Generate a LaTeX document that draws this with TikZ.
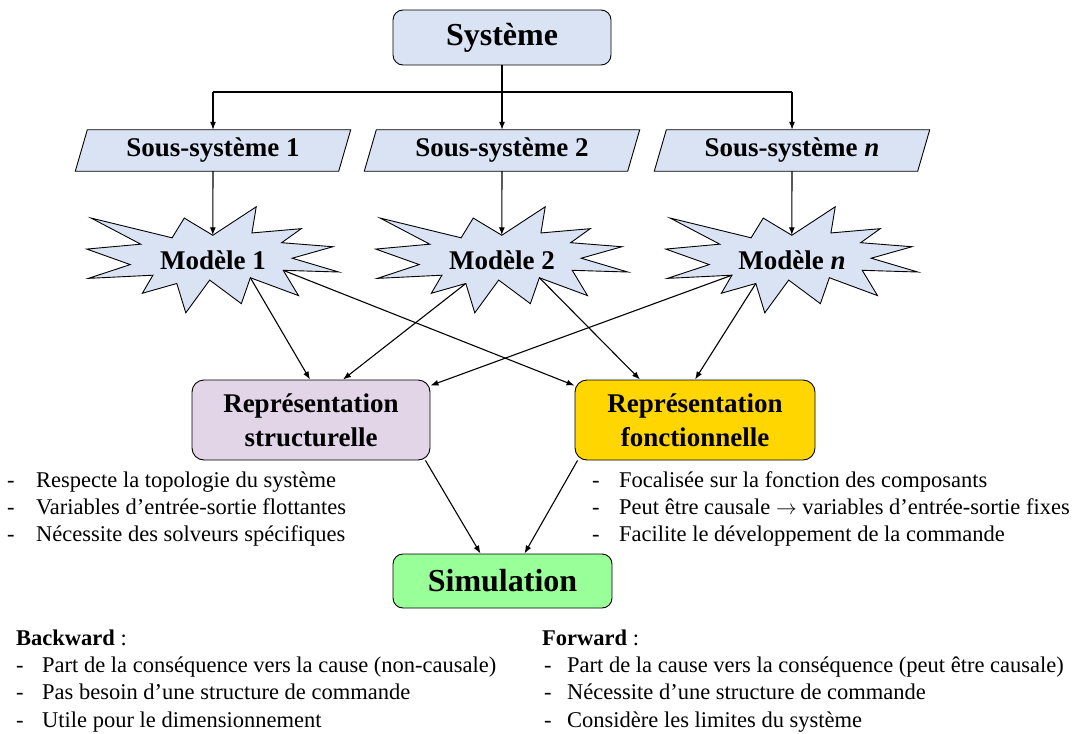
\documentclass[tikz,border=0pt]{standalone}
\usepackage{fontspec}
\setmainfont{Liberation Serif}
\usetikzlibrary{arrows.meta,calc,backgrounds}
\definecolor{sysblue}{RGB}{218,227,243}
\definecolor{lav}{RGB}{225,213,231}
\definecolor{gold}{RGB}{255,214,0}
\definecolor{simgreen}{RGB}{153,255,153}
\newcommand\mydash[1]{\makebox[#1][l]{-}}
\newcommand\paraframe[1]{%
  \draw[fill=sysblue, line width=0.9pt] ($(#1.south west)+(-6,0)$) -- ($(#1.south east)+(-6,0)$)
    -- ($(#1.north east)+(6,0)$) -- ($(#1.north west)+(6,0)$) -- cycle;}
\newcommand\sealframe[1]{%
  \begin{scope}[shift={(#1.north west)}, x=1.16667pt, y=-0.490741pt]
    \draw[fill=sysblue, line width=0.9pt] (108,58) -- (145.22,0) -- (141.55,53.25) -- (183.80,44.57)
      -- (167.02,73.15) -- (210.97,81.37) -- (176.07,104.75) -- (216,132.90) -- (168.37,129.42)
      -- (181.45,180.95) -- (140.20,144.57) -- (132.47,197.37) -- (105.32,149.35) -- (84.85,216)
      -- (77.15,156.27) -- (47.62,176.17) -- (56.67,139.37) -- (1.35,145.87) -- (37.22,117.75)
      -- (0,86.15) -- (46.27,76.17) -- (3.70,22.95) -- (73.12,63.20) -- (83.52,22.95) -- cycle;
    \coordinate (#1-top) at (108,58);
    \coordinate (#1-a) at (140.20,144.57);
    \coordinate (#1-b) at (168.37,129.42);
    \coordinate (#1-c) at (77.15,156.27);
    \coordinate (#1-d) at (56.67,139.37);
  \end{scope}}
\begin{document}
\begin{tikzpicture}[x=1pt, y=-1pt,
  conn/.style={-{Latex[length=8pt,width=6pt]}, line width=1.1pt},
  plain/.style={line width=1.1pt},
  bigtxt/.style={font=\fontsize{32}{38}\selectfont\bfseries},
  midtxt/.style={font=\fontsize{27}{34}\selectfont\bfseries},
  box/.style={draw, line width=0.9pt, rounded corners=10pt, align=center, inner sep=0pt},
  ssnode/.style={midtxt, inner sep=0pt, minimum width=263pt, minimum height=41pt},
  sealnode/.style={midtxt, inner sep=0pt, minimum width=252pt, minimum height=106pt},
  listtxt/.style={font=\fontsize{22.5}{27}\selectfont, inner sep=0pt, anchor=base west}]
\useasboundingbox (0,0) rectangle (1086,733);

% nodes
\node[box, bigtxt, fill=sysblue, minimum width=218pt, minimum height=55pt] (sys) at (502,37.5) {Système};
\node[ssnode] (ss1) at (213,150.5) {Sous-système 1};
\node[ssnode] (ss2) at (502,150.5) {Sous-système 2};
\node[ssnode] (ssn) at (792,150.5) {Sous-système \textit{n}};
\node[sealnode] (m1) at (213,260) {Modèle 1};
\node[sealnode] (m2) at (502,260) {Modèle 2};
\node[sealnode] (mn) at (792,260) {Modèle \textit{n}};
\node[box, midtxt, fill=lav, rounded corners=12pt, minimum width=238pt, minimum height=80pt] (rs) at (311,420) {Représentation\\structurelle};
\node[box, midtxt, fill=gold, rounded corners=12pt, minimum width=240pt, minimum height=80pt] (rf) at (695,420) {Représentation\\fonctionnelle};
\node[box, bigtxt, fill=simgreen, minimum width=219pt, minimum height=54pt] (sim) at (502.5,581) {Simulation};

\begin{pgfonlayer}{background}
  \paraframe{ss1}
  \paraframe{ss2}
  \paraframe{ssn}
  \sealframe{m1}
  \sealframe{m2}
  \sealframe{mn}
\end{pgfonlayer}

% connectors
\coordinate (jn) at (502,92);
\draw[conn] (sys.south) -- (ss2.north);
\draw[plain] (ss1.north |- jn) -- (ssn.north |- jn);
\draw[conn] (ss1.north |- jn) -- (ss1.north);
\draw[conn] (ssn.north |- jn) -- (ssn.north);
\draw[conn] (ss1.south) -- (m1-top);
\draw[conn] (ss2.south) -- (m2-top);
\draw[conn] (ssn.south) -- (mn-top);

\draw[conn] (m1-a) -- ([xshift=-1pt]rs.north);
\draw[conn] (m2-c) -- ([xshift=32pt]rs.north);
\draw[conn] (mn-d) -- ([yshift=-6pt]rs.north east);
\draw[conn] (m1-b) -- ([yshift=-6pt]rf.north west);
\draw[conn] (m2-a) -- ([xshift=-55pt]rf.north);
\draw[conn] (mn-c) -- (rf.north);
\draw[conn] ([xshift=-5pt]rs.south east) -- ([xshift=-22pt]sim.north);
\draw[conn] ([xshift=3pt]rf.south west) -- ([xshift=22pt]sim.north);

% lists
\node[listtxt] (l1) at (7,487) {\mydash{29pt}Respecte la topologie du système};
\node[listtxt] (l2) at (7,514) {\mydash{29pt}Variables d’entrée-sortie flottantes};
\node[listtxt] (l3) at (7,541) {\mydash{29pt}Nécessite des solveurs spécifiques};

\node[listtxt] (r1) at (592,487) {\mydash{27pt}Focalisée sur la fonction des composants};
\node[listtxt] (r2) at (592,514) {\mydash{27pt}Peut être causale $\rightarrow$ variables d’entrée-sortie fixes};
\node[listtxt] (r3) at (592,541) {\mydash{27pt}Facilite le développement de la commande};

\node[listtxt] (b0) at (16,645) {\textbf{Backward} :};
\node[listtxt] (b1) at (16,672) {\mydash{26pt}Part de la conséquence vers la cause (non-causale)};
\node[listtxt] (b2) at (16,699.5) {\mydash{26pt}Pas besoin d’une structure de commande};
\node[listtxt] (b3) at (16,727) {\mydash{26pt}Utile pour le dimensionnement};

\node[listtxt] (f0) at (542,645) {\textbf{Forward} :};
\node[listtxt] (f1) at (544,672) {\mydash{23pt}Part de la cause vers la conséquence (peut être causale)};
\node[listtxt] (f2) at (544,699.5) {\mydash{23pt}Nécessite d’une structure de commande};
\node[listtxt] (f3) at (544,727) {\mydash{23pt}Considère les limites du système};
\end{tikzpicture}
\end{document}
